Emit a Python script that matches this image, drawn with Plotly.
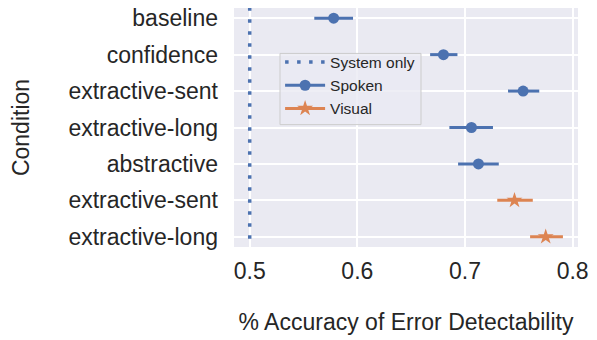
import plotly.graph_objects as go

labels = ["baseline", "confidence", "extractive-sent", "extractive-long",
          "abstractive", "extractive-sent", "extractive-long"]
spoken_pos = [0, 1, 2, 3, 4]
spoken_mean = [0.578, 0.680, 0.754, 0.706, 0.7125]
spoken_lo = [0.560, 0.6676, 0.740, 0.6855, 0.6936]
spoken_hi = [0.596, 0.693, 0.769, 0.726, 0.7314]
visual_pos = [5, 6]
visual_mean = [0.746, 0.775]
visual_lo = [0.730, 0.7605]
visual_hi = [0.763, 0.791]
system_only = 0.5

BLUE = "#4C72B0"
ORANGE = "#DD8452"
FONT = "Liberation Sans, Arial, sans-serif"

fig = go.Figure()

fig.add_trace(go.Scatter(
    x=[system_only, system_only], y=[-0.3, 6.3], mode="lines",
    line=dict(color=BLUE, width=3.5, dash="3.5px,8.5px"), name="System only"))

fig.add_trace(go.Scatter(
    x=spoken_mean, y=spoken_pos, mode="markers",
    marker=dict(color=BLUE, size=11, symbol="circle"),
    error_x=dict(type="data", symmetric=False,
                 array=[h - m for h, m in zip(spoken_hi, spoken_mean)],
                 arrayminus=[m - l for m, l in zip(spoken_mean, spoken_lo)],
                 color=BLUE, thickness=3, width=0),
    showlegend=False))

fig.add_trace(go.Scatter(
    x=visual_mean, y=visual_pos, mode="markers",
    marker=dict(color=ORANGE, size=12, symbol="star"),
    error_x=dict(type="data", symmetric=False,
                 array=[h - m for h, m in zip(visual_hi, visual_mean)],
                 arrayminus=[m - l for m, l in zip(visual_mean, visual_lo)],
                 color=ORANGE, thickness=3, width=0),
    showlegend=False))

# legend entries
fig.add_trace(go.Scatter(x=[None], y=[None], mode="lines+markers", name="Spoken",
                         line=dict(color=BLUE, width=3),
                         marker=dict(color=BLUE, size=11, symbol="circle")))
fig.add_trace(go.Scatter(x=[None], y=[None], mode="lines+markers", name="Visual",
                         line=dict(color=ORANGE, width=3),
                         marker=dict(color=ORANGE, size=12, symbol="star")))

# legend frame
fig.add_shape(type="rect", xref="paper", yref="paper",
              x0=0.1337, x1=0.5436, y0=0.512, y1=0.81,
              fillcolor="rgba(234,234,242,0.8)", line=dict(color="#CCCCCC", width=1),
              layer="above")

fig.update_layout(
    width=597, height=340,
    margin=dict(l=234, r=19, t=5, b=93),
    plot_bgcolor="#EAEAF2", paper_bgcolor="white",
    font=dict(family=FONT, color="#262626", size=23),
    showlegend=True,
    legend=dict(x=0.134, y=0.843, xanchor="left", yanchor="top",
                bgcolor="rgba(0,0,0,0)", borderwidth=0,
                font=dict(size=15.5, family=FONT, color="#262626"),
                itemwidth=40, tracegroupgap=0),
    xaxis=dict(range=[0.4854, 0.805], tickvals=[0.5, 0.6, 0.7, 0.8],
               ticktext=["0.5", "0.6", "0.7", "0.8"],
               showgrid=True, gridcolor="white", gridwidth=1.5, zeroline=False,
               showline=False, ticks="", tickfont=dict(size=23), ticklabelstandoff=8,
               title=dict(text="% Accuracy of Error Detectability", font=dict(size=23), standoff=30)),
    yaxis=dict(range=[6.28, -0.28], tickvals=list(range(7)), ticktext=labels,
               showgrid=True, gridcolor="white", gridwidth=1.5, zeroline=False,
               showline=False, ticks="", tickfont=dict(size=23), ticklabelstandoff=15,
               title=dict(text="Condition", font=dict(size=23), standoff=32)),
)

fig.write_html("out.html", config={"displayModeBar": False},
               post_script="document.body.style.margin='0';")
